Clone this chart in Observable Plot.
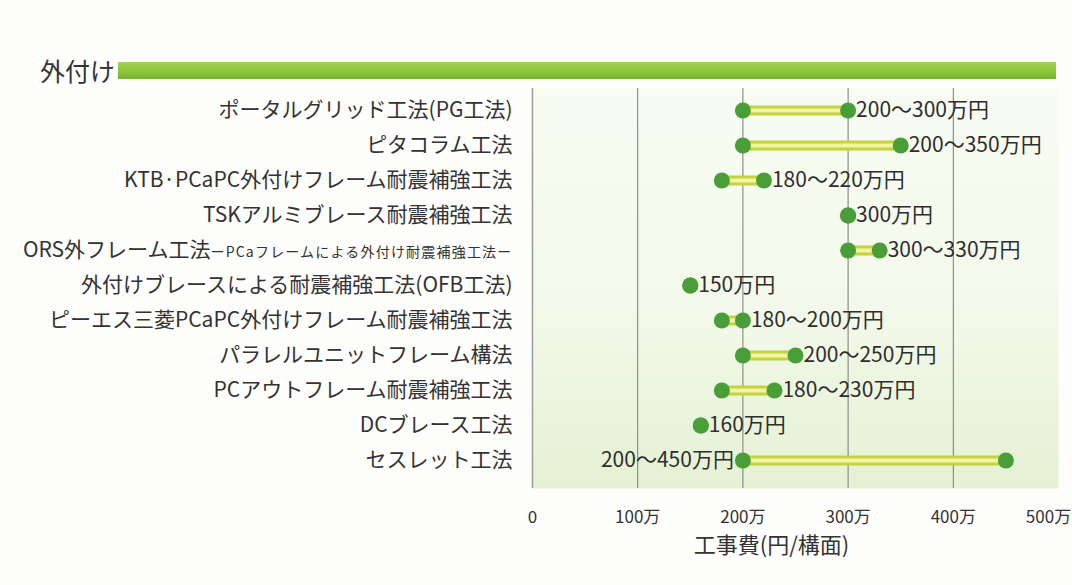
<!DOCTYPE html>
<html>
<head>
<meta charset="utf-8">
<script src="https://cdn.jsdelivr.net/npm/d3@7"></script>
<script src="https://cdn.jsdelivr.net/npm/@observablehq/plot@0.6"></script>
<style>
  html, body { margin: 0; padding: 0; background: #fdfdfb; }
  body { width: 1072px; height: 585px; overflow: hidden; font-family: "Noto Sans CJK JP", "Noto Sans", sans-serif; }
  #header { position: relative; height: 84px; }
  #title { position: absolute; left: 40px; top: 50px; font-size: 25px; line-height: 40px; color: #333; }
  #bar { position: absolute; left: 118px; top: 62px; width: 938px; height: 17px;
         background: linear-gradient(#a3d24e, #86bf3a 70%, #78b033); }
  #chart svg { display: block; }
</style>
</head>
<body>
<div id="header"><div id="title">外付け</div><div id="bar"></div></div>
<div id="chart"></div>
<script>
// ---- data ----
const categories = [
  "ポータルグリッド工法(PG工法)",
  "ピタコラム工法",
  "KTB·PCaPC外付けフレーム耐震補強工法",
  "TSKアルミブレース耐震補強工法",
  "ORS外フレーム工法ーPCaフレームによる外付け耐震補強工法ー",
  "外付けブレースによる耐震補強工法(OFB工法)",
  "ピーエス三菱PCaPC外付けフレーム耐震補強工法",
  "パラレルユニットフレーム構法",
  "PCアウトフレーム耐震補強工法",
  "DCブレース工法",
  "セスレット工法"
];
const lowValues  = [200, 200, 180, 300, 300, 150, 180, 200, 180, 160, 200];
const highValues = [300, 350, 220, 300, 330, 150, 200, 250, 230, 160, 450];
const xTicks = [0, 100, 200, 300, 400, 500];
const smallSuffix = "ーPCaフレームによる外付け耐震補強工法ー";
const leftLabelled = ["セスレット工法"];
const xLabel = "工事費(円/構面)";

const data = categories.map((name, i) => {
  const lo = lowValues[i], hi = highValues[i];
  return {name, lo, hi, label: lo === hi ? `${lo}万円` : `${lo}～${hi}万円`, left: leftLabelled.includes(name)};
});

const tickFmt = d => d === 0 ? "0" : `${d}万`;
const font = "'Noto Sans CJK JP', sans-serif";
const chart = Plot.plot({
  width: 1072,
  height: 501,
  marginLeft: 532,
  marginRight: 14,
  marginTop: 4,
  marginBottom: 97,
  style: {fontFamily: font, background: "transparent", color: "#333"},
  x: {domain: [0, 500]},
  y: {domain: categories, insetTop: 1, insetBottom: 7},
  marks: [
    Plot.frame({fill: "url(#bgGrad)", stroke: null}),
    Plot.ruleX(xTicks.filter(d => d > 0 && d < 500), {stroke: "#7a7a7a", strokeWidth: 1}),
    Plot.ruleX([0], {stroke: "#9a9a9a", strokeWidth: 1.5}),
    Plot.ruleY(data, {y: "name", x1: "lo", x2: "hi", stroke: "#c3d23e", strokeWidth: 10}),
    Plot.ruleY(data, {y: "name", x1: "lo", x2: "hi", stroke: "#f3f5a4", strokeWidth: 4}),
    Plot.dot(data, {x: "lo", y: "name", r: 8, fill: "#4a9e38"}),
    Plot.dot(data, {x: "hi", y: "name", r: 8, fill: "#4a9e38"}),
    Plot.text(data.filter(d => !d.left), {x: "hi", y: "name", text: "label", textAnchor: "start", dx: 8, fontSize: 21, fill: "#2e2e2e"}),
    Plot.text(data.filter(d => d.left), {x: "lo", y: "name", text: "label", textAnchor: "end", dx: -9, fontSize: 21, fill: "#2e2e2e"}),
    Plot.axisY({tickSize: 0, tickPadding: 20, fontSize: 21, label: null}),
    Plot.axisX({ticks: xTicks.filter(d => d < 500), tickSize: 0, tickPadding: 22, fontSize: 17, label: null, tickFormat: tickFmt}),
    Plot.axisX({ticks: xTicks.filter(d => d >= 500), tickSize: 0, tickPadding: 22, fontSize: 17, label: null, tickFormat: tickFmt, dx: -10}),
    Plot.text([xLabel], {frameAnchor: "bottom", dx: -24, dy: 57, fontSize: 22, fill: "#333", lineAnchor: "middle"})
  ]
});

// gradient for the plot background
const svg = d3.select(chart);
const defs = svg.insert("defs", ":first-child");
const g = defs.append("linearGradient").attr("id", "bgGrad").attr("x1", 0).attr("y1", 0).attr("x2", 0).attr("y2", 1);
g.append("stop").attr("offset", "0%").attr("stop-color", "#f8fbf2");
g.append("stop").attr("offset", "55%").attr("stop-color", "#f3f9ea");
g.append("stop").attr("offset", "100%").attr("stop-color", "#e4f1d3");

// smaller suffix for the ORS label
svg.selectAll("text").each(function() {
  const t = this.textContent;
  if (t.endsWith(smallSuffix) && t.length > smallSuffix.length) {
    const sel = d3.select(this);
    const main = t.slice(0, -smallSuffix.length);
    sel.text(null);
    sel.append("tspan").text(main);
    sel.append("tspan").attr("font-size", 14).attr("letter-spacing", 1.2).text(smallSuffix);
  }
});

document.getElementById("chart").appendChild(chart);
</script>
</body>
</html>
